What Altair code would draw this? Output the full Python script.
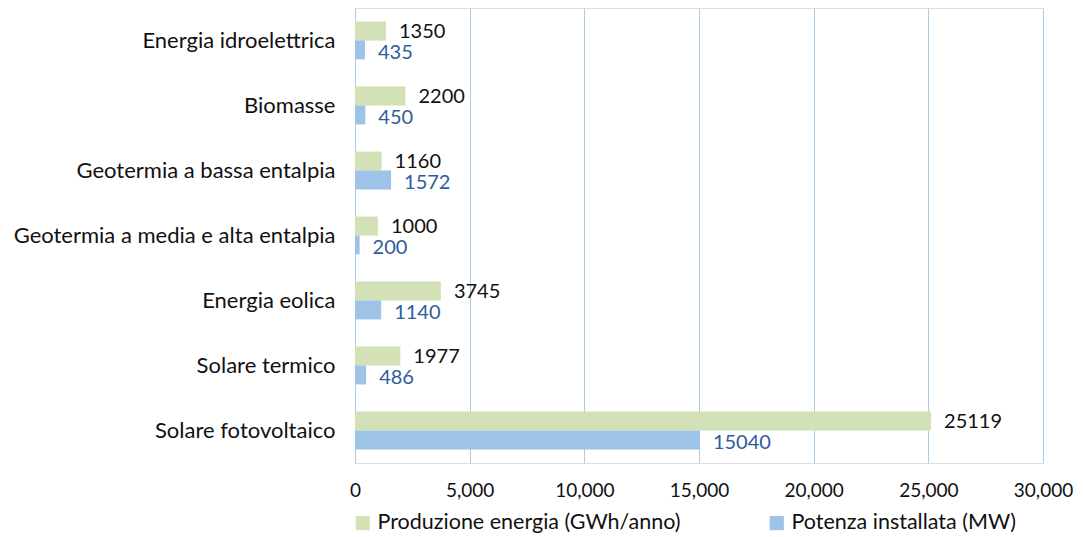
import altair as alt
import pandas as pd

categories = [
    "Energia idroelettrica",
    "Biomasse",
    "Geotermia a bassa entalpia",
    "Geotermia a media e alta entalpia",
    "Energia eolica",
    "Solare termico",
    "Solare fotovoltaico",
]
produzione = [1350, 2200, 1160, 1000, 3745, 1977, 25119]
potenza = [435, 450, 1572, 200, 1140, 486, 15040]
series = ["Produzione energia (GWh/anno)", "Potenza installata (MW)"]
x_ticks = [0, 5000, 10000, 15000, 20000, 25000, 30000]

rows = []
for c, p, w in zip(categories, produzione, potenza):
    rows.append({"cat": c, "serie": series[0], "val": p})
    rows.append({"cat": c, "serie": series[1], "val": w})
df = pd.DataFrame(rows)

FONT = "Lato"

y_enc = alt.Y("cat:N", sort=categories, title=None,
              scale=alt.Scale(paddingInner=0.42, paddingOuter=0.21),
              axis=alt.Axis(labelFontSize=22, labelColor="#111111", labelFont=FONT,
                            labelPadding=20, ticks=False, domain=False, grid=False,
                            labelLimit=400))
x_enc = alt.X("val:Q", title=None,
              scale=alt.Scale(domain=[0, 30000], nice=False),
              axis=alt.Axis(values=x_ticks, format=",.0f", labelFontSize=19, labelFont=FONT,
                            labelColor="#111111", labelPadding=18, ticks=False,
                            labelFlush=False, labelOverlap=False,
                            domain=False, grid=True, gridColor="#A9CDE6", gridWidth=1))
yoff = alt.YOffset("serie:N", sort=series, scale=alt.Scale(paddingInner=0, paddingOuter=0))

bars = alt.Chart(df).mark_bar(size=19).encode(
    x=x_enc, y=y_enc, yOffset=yoff,
    color=alt.Color("serie:N", sort=series,
                    scale=alt.Scale(domain=series, range=["#D3E1B6", "#9DC3E6"]),
                    legend=alt.Legend(title=None, orient="none", direction="horizontal",
                                      legendX=-3, legendY=504, symbolType="square",
                                      symbolSize=200, symbolStrokeWidth=0,
                                      labelFontSize=21.5, labelFont=FONT, labelColor="#111111",
                                      columnPadding=85, labelOffset=4, labelLimit=500,
                                      padding=0)),
)

t1 = alt.Chart(df).transform_filter(alt.datum.serie == series[0]).mark_text(
    align="left", baseline="middle", dx=13, dy=1, fontSize=20, font=FONT, color="#111111"
).encode(x="val:Q", y=alt.Y("cat:N", sort=categories), yOffset=yoff, text="val:Q")

t2 = alt.Chart(df).transform_filter(alt.datum.serie == series[1]).mark_text(
    align="left", baseline="middle", dx=13, dy=3, fontSize=20, font=FONT, color="#2F5C9E"
).encode(x="val:Q", y=alt.Y("cat:N", sort=categories), yOffset=yoff, text="val:Q")

chart = alt.layer(bars, t1, t2).properties(
    width=688, height=455,
    autosize=alt.AutoSizeParams(type="none"),
    padding={"left": 347, "top": 0, "right": 32, "bottom": 74},
).configure_view(stroke="#111111", strokeWidth=1.5).configure(background="white")

chart.save("out.html", embed_options={"renderer": "svg", "actions": False})
